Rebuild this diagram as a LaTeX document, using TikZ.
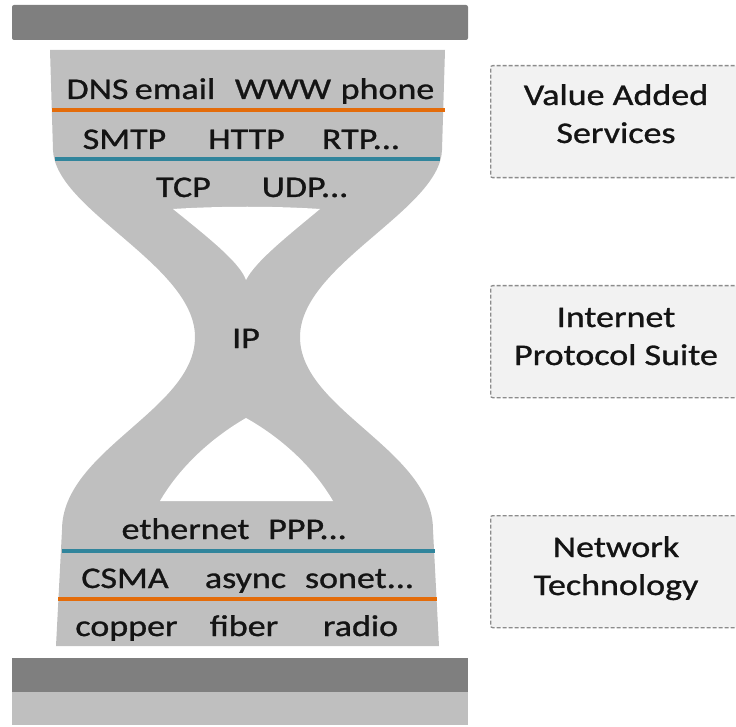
\documentclass[tikz,border=0pt]{standalone}
\usepackage{fontspec}
\setmainfont{Carlito}[FakeStretch=1.2,FakeBold=1]
\definecolor{bardark}{RGB}{127,127,127}
\definecolor{barlight}{RGB}{191,191,191}
\definecolor{glass}{RGB}{191,191,191}
\definecolor{lorange}{RGB}{228,108,10}
\definecolor{lblue}{RGB}{49,133,156}
\definecolor{boxfill}{RGB}{242,242,242}
\definecolor{boxline}{RGB}{140,140,140}
\definecolor{txt}{RGB}{20,20,20}
\begin{document}
\begin{tikzpicture}[x=1pt,y=-1pt,
  word/.style={anchor=base,inner sep=0pt,text=txt,font=\fontsize{30}{36}\selectfont},
  sidebox/.style={draw=boxline,dash pattern=on 4pt off 2pt,line width=1.3pt,fill=boxfill,
    rounded corners=2pt,minimum width=252pt,minimum height=112pt,inner sep=0pt,anchor=north west},
  sepline/.style={line width=4.5pt}
]
\useasboundingbox (0,0) rectangle (736,727);
% bars
\fill[bardark, rounded corners=2pt] (12,5) rectangle (468,40);
\fill[bardark] (12,658) rectangle (468,692);
\fill[barlight] (12,692) rectangle (468,725);
% hourglass
\fill[glass] (50,50) -- (445,50) -- (442,150) .. controls (440,210) and (300,265) .. (300,337)
  .. controls (300,410) and (433,450) .. (433,530) -- (439,646) -- (56,646) -- (62,530)
  .. controls (62,450) and (195,410) .. (195,337) .. controls (195,265) and (55,210) .. (53,150) -- cycle;
\fill[white] (173,209) .. controls (220,206) and (275,206) .. (320,209)
  .. controls (285,238) and (255,262) .. (246,280)
  .. controls (240,262) and (205,235) .. (173,209) -- cycle;
\fill[white] (246,418) .. controls (285,440) and (315,470) .. (333,501) -- (160,501)
  .. controls (178,470) and (208,440) .. (246,418) -- cycle;
% separator lines
\draw[lorange, sepline] (52,110) -- (445,110);
\draw[lblue, sepline] (55,159) -- (440,159);
\draw[lblue, sepline] (62,551) -- (435,551);
\draw[lorange, sepline] (58,599) -- (437,599);
% words
\node[word] (dns) at (97.5,99) {DNS};
\node[word] (email) at (175,99) {email};
\node[word] (www) at (283,99) {WWW};
\node[word] (phone) at (387.5,99) {phone};
\node[word] (smtp) at (124.5,149) {SMTP};
\node[word] (http) at (246.5,149) {HTTP};
\node[word] (rtp) at (361,149) {RTP...};
\node[word] (tcp) at (183.5,197) {TCP};
\node[word] (udp) at (305,197) {UDP...};
\node[word] (ip) at (246,348) {IP};
\node[word] (eth) at (185.5,539) {ethernet};
\node[word] (ppp) at (307.5,539) {PPP...};
\node[word] (csma) at (125,588) {CSMA};
\node[word] (async) at (245.5,588) {async};
\node[word] (sonet) at (359.5,588) {sonet...};
\node[word] (copper) at (126.5,636) {copper};
\node[word] (fiber) at (244,636) {fiber};
\node[word] (radio) at (360.5,636) {radio};
% side boxes
\node[sidebox] (b1) at (490,65) {};
\node[sidebox] (b2) at (490,285) {};
\node[sidebox] (b3) at (490,515) {};
\node[word] (b1a) at (616,105) {Value Added};
\node[word] (b1b) at (616,143) {Services};
\node[word] (b2a) at (616,327) {Internet};
\node[word] (b2b) at (616,365) {Protocol Suite};
\node[word] (b3a) at (616,557) {Network};
\node[word] (b3b) at (616,595) {Technology};
\end{tikzpicture}
\end{document}
